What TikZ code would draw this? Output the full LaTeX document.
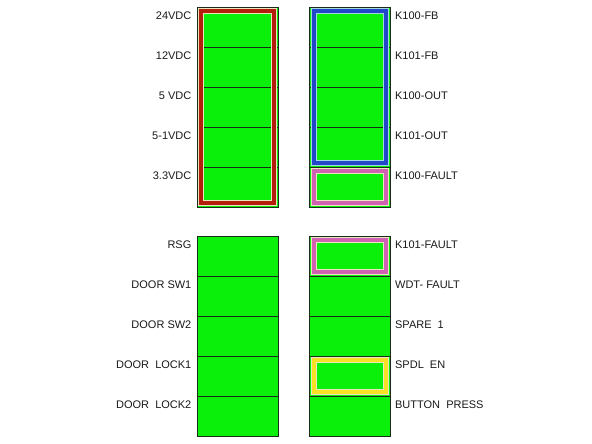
\documentclass[tikz,border=0pt]{standalone}
\usepackage{fontspec}
\setmainfont{Liberation Sans}
\usepackage{tikz}

\definecolor{cellgreen}{RGB}{10,240,10}
\definecolor{edge}{RGB}{25,45,25}
\definecolor{railred}{RGB}{178,32,12}
\definecolor{relayblue}{RGB}{32,72,200}
\definecolor{faultpink}{RGB}{208,98,178}
\definecolor{enyellow}{RGB}{246,226,34}
\definecolor{cream}{RGB}{238,228,192}
\definecolor{paleblue}{RGB}{160,215,225}

\begin{document}
\begin{tikzpicture}[x=1pt,y=-1pt,
    cell/.style={rectangle,draw=edge,fill=cellgreen,line width=0.9pt,minimum width=81pt,minimum height=40pt,inner sep=0pt},
    lbl/.style={inner sep=0pt,font=\fontsize{11}{13}\selectfont,text=black!90},
    halo/.style={line width=6pt},
    band/.style={line width=4pt}]
    \useasboundingbox (0,0) rectangle (592,444);

    % top left: supply rails
    \node[cell] (TL1) at (237.5,27) {};
    \node[cell] (TL2) at (237.5,67) {};
    \node[cell] (TL3) at (237.5,107) {};
    \node[cell] (TL4) at (237.5,147) {};
    \node[cell] (TL5) at (237.5,187) {};
    % top right: relays
    \node[cell] (TR1) at (350,27) {};
    \node[cell] (TR2) at (350,67) {};
    \node[cell] (TR3) at (350,107) {};
    \node[cell] (TR4) at (350,147) {};
    \node[cell] (TR5) at (350,187) {};
    % bottom left
    \node[cell] (BL1) at (237.5,256) {};
    \node[cell] (BL2) at (237.5,296) {};
    \node[cell] (BL3) at (237.5,336) {};
    \node[cell] (BL4) at (237.5,376) {};
    \node[cell] (BL5) at (237.5,416) {};
    % bottom right
    \node[cell] (BR1) at (350,256) {};
    \node[cell] (BR2) at (350,296) {};
    \node[cell] (BR3) at (350,336) {};
    \node[cell] (BR4) at (350,376) {};
    \node[cell] (BR5) at (350,416) {};

    % frames
    \draw[halo,cream] ([shift={(4.5,4.5)}]TL1.north west) rectangle ([shift={(-4.5,-4.5)}]TL5.south east);
    \draw[band,railred] ([shift={(4.5,4.5)}]TL1.north west) rectangle ([shift={(-4.5,-4.5)}]TL5.south east);
    \draw[halo,paleblue] ([shift={(4.5,4.5)}]TR1.north west) rectangle ([shift={(-4.5,-4.5)}]TR4.south east);
    \draw[band,relayblue] ([shift={(4.5,4.5)}]TR1.north west) rectangle ([shift={(-4.5,-4.5)}]TR4.south east);
    \draw[halo,cream] ([shift={(4.5,4.5)}]TR5.north west) rectangle ([shift={(-4.5,-4.5)}]TR5.south east);
    \draw[band,faultpink] ([shift={(4.5,4.5)}]TR5.north west) rectangle ([shift={(-4.5,-4.5)}]TR5.south east);
    \draw[halo,cream] ([shift={(4.5,4.5)}]BR1.north west) rectangle ([shift={(-4.5,-4.5)}]BR1.south east);
    \draw[band,faultpink] ([shift={(4.5,4.5)}]BR1.north west) rectangle ([shift={(-4.5,-4.5)}]BR1.south east);
    \draw[halo,cream] ([shift={(4.5,4.5)}]BR4.north west) rectangle ([shift={(-4.5,-4.5)}]BR4.south east);
    \draw[band,enyellow] ([shift={(4.5,4.5)}]BR4.north west) rectangle ([shift={(-4.5,-4.5)}]BR4.south east);

    % labels
    \node[lbl,anchor=east] (v24) at ([xshift=-5pt,yshift=-9.5pt]TL1.north west) {24VDC};
    \node[lbl,anchor=east] (v12) at ([xshift=-5pt,yshift=-9.5pt]TL2.north west) {12VDC};
    \node[lbl,anchor=east] (v5) at ([xshift=-5pt,yshift=-9.5pt]TL3.north west) {5 VDC};
    \node[lbl,anchor=east] (v51) at ([xshift=-5pt,yshift=-9.5pt]TL4.north west) {5-1VDC};
    \node[lbl,anchor=east] (v33) at ([xshift=-5pt,yshift=-9.5pt]TL5.north west) {3.3VDC};
    \node[lbl,anchor=west] (kfb0) at ([xshift=4pt,yshift=-9.5pt]TR1.north east) {K100-FB};
    \node[lbl,anchor=west] (kfb1) at ([xshift=4pt,yshift=-9.5pt]TR2.north east) {K101-FB};
    \node[lbl,anchor=west] (kout0) at ([xshift=4pt,yshift=-9.5pt]TR3.north east) {K100-OUT};
    \node[lbl,anchor=west] (kout1) at ([xshift=4pt,yshift=-9.5pt]TR4.north east) {K101-OUT};
    \node[lbl,anchor=west] (kflt0) at ([xshift=4pt,yshift=-9.5pt]TR5.north east) {K100-FAULT};
    \node[lbl,anchor=east] (rsg) at ([xshift=-5pt,yshift=-9.5pt]BL1.north west) {RSG};
    \node[lbl,anchor=east] (dsw1) at ([xshift=-5pt,yshift=-9.5pt]BL2.north west) {DOOR SW1};
    \node[lbl,anchor=east] (dsw2) at ([xshift=-5pt,yshift=-9.5pt]BL3.north west) {DOOR SW2};
    \node[lbl,anchor=east] (dlk1) at ([xshift=-5pt,yshift=-9.5pt]BL4.north west) {DOOR\ \ LOCK1};
    \node[lbl,anchor=east] (dlk2) at ([xshift=-5pt,yshift=-9.5pt]BL5.north west) {DOOR\ \ LOCK2};
    \node[lbl,anchor=west] (kflt1) at ([xshift=4pt,yshift=-9.5pt]BR1.north east) {K101-FAULT};
    \node[lbl,anchor=west] (wdt) at ([xshift=4pt,yshift=-9.5pt]BR2.north east) {WDT- FAULT};
    \node[lbl,anchor=west] (spare) at ([xshift=4pt,yshift=-9.5pt]BR3.north east) {SPARE\ \ 1};
    \node[lbl,anchor=west] (spdl) at ([xshift=4pt,yshift=-9.5pt]BR4.north east) {SPDL\ \ EN};
    \node[lbl,anchor=west] (btn) at ([xshift=4pt,yshift=-9.5pt]BR5.north east) {BUTTON\ \ PRESS};
\end{tikzpicture}
\end{document}
